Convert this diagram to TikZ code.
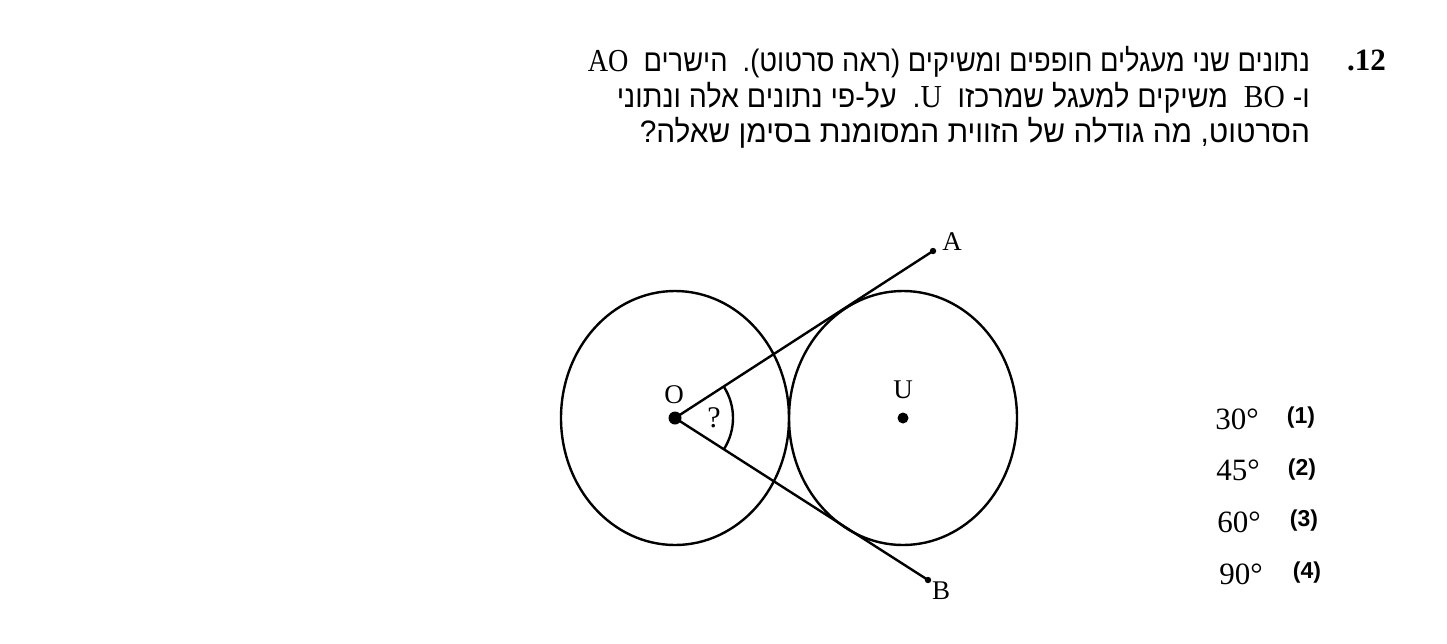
\documentclass[tikz,border=0pt]{standalone}
\usepackage{fontspec}
\usepackage{graphicx}
\setmainfont{Liberation Serif}
\newfontfamily\hebfont[Script=Hebrew]{Liberation Sans}
\newfontfamily\latfont{Liberation Serif}
\newfontfamily\numfont{Liberation Sans}
\TeXXeTstate=1
\newcommand{\heb}[1]{{\hebfont\beginR #1\endR}}
\newcommand{\lat}[1]{{\latfont\fontsize{32}{32}\selectfont\beginL #1\endL}}
\begin{document}
\begin{tikzpicture}[x=1pt,y=-1pt,
  geo/.style={line width=2.4pt},
  bigdot/.style={fill=black},
  ptlabel/.style={font=\latfont\fontsize{27}{27}\selectfont, inner sep=0pt},
  hebline/.style={anchor=base east, inner sep=0pt, font=\hebfont\fontsize{31}{31}\selectfont},
  ansdeg/.style={font=\latfont\fontsize{31}{31}\selectfont, inner sep=0pt},
  ansnum/.style={font=\numfont\bfseries\fontsize{23}{23}\selectfont, inner sep=0pt}]
\useasboundingbox (0,0) rectangle (1447,643);
\fill[white] (0,0) rectangle (1447,643);

% question text
\node[anchor=base east, inner sep=0pt, font=\latfont\bfseries\fontsize{31}{31}\selectfont] (qnum) at (1386,70) {.12};
\node[hebline] (l1) at (1310,71) {\resizebox{722pt}{\height}{\heb{נתונים שני מעגלים חופפים ומשיקים (ראה סרטוט).\ \ הישרים \ \lat{AO}}}};
\node[hebline] (l2) at (1310,107) {\resizebox{693pt}{\height}{\heb{ו-\ \lat{BO}\ \ משיקים למעגל שמרכזו \ \lat{U}.\ \ על-פי נתונים אלה ונתוני}}};
\node[hebline] (l3) at (1310,142) {\resizebox{670pt}{\height}{\heb{הסרטוט, מה גודלה של הזווית המסומנת בסימן שאלה?}}};

% geometry
\coordinate (O) at (675,418);
\coordinate (U) at (903,418);
\coordinate (A) at (933,251);
\coordinate (B) at (928,580);
\draw[geo] (O) ellipse [x radius=114, y radius=127];
\draw[geo] (U) ellipse [x radius=114, y radius=127];
\draw[geo] (O) -- (A);
\draw[geo] (O) -- (B);
\draw[geo] ([shift={(-32.7:58)}]O) arc[start angle=-32.7, end angle=32.7, radius=58];
\fill[bigdot] (O) circle[radius=6.5];
\fill[bigdot] (U) circle[radius=5.5];
\fill[bigdot] (A) circle[radius=3.2];
\fill[bigdot] (B) circle[radius=3.2];
\node[ptlabel] (lO) at (674,395) {O};
\node[ptlabel] (lU) at (903,390) {U};
\node[ptlabel] (lA) at (952,242) {A};
\node[ptlabel] (lB) at (941,591) {B};
\node[ptlabel, font=\latfont\fontsize{30}{30}\selectfont] (lq) at (714,418) {?};

% answers
\node[ansdeg] (a1) at (1237,419) {30°};
\node[ansnum] (n1) at (1301,418) {(1)};
\node[ansdeg] (a2) at (1238,470) {45°};
\node[ansnum] (n2) at (1302,470) {(2)};
\node[ansdeg] (a3) at (1239,522) {60°};
\node[ansnum] (n3) at (1304,521) {(3)};
\node[ansdeg] (a4) at (1241,574) {90°};
\node[ansnum] (n4) at (1307,573) {(4)};
\end{tikzpicture}
\end{document}
